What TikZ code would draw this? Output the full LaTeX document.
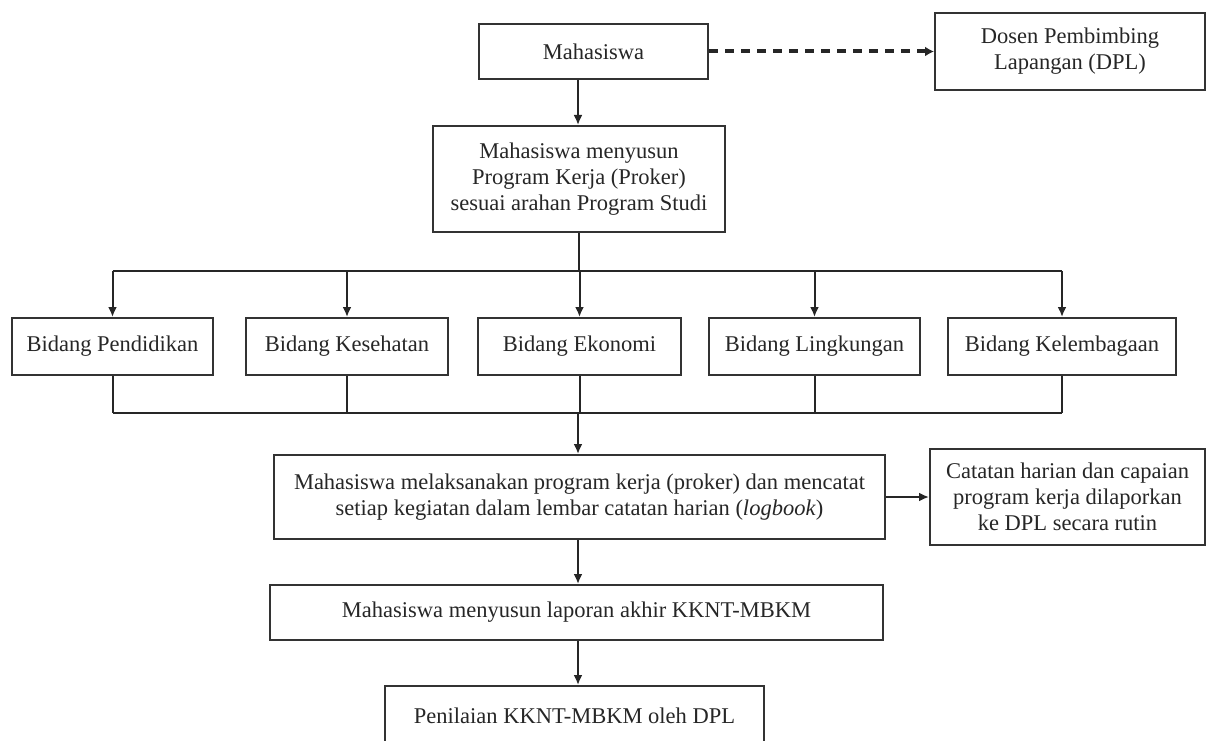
\documentclass[tikz,border=0pt]{standalone}
\usepackage{fontspec}
\setmainfont{Liberation Serif}
\usepackage{tikz}
\usetikzlibrary{arrows.meta}

\tikzset{
	box/.style={draw=black!80,line width=2pt,align=center,inner sep=0pt,text=black!85,
		font=\fontsize{22.5}{26}\selectfont},
	link/.style={draw=black!85,line width=2pt},
	arr/.style={link,-{Latex[length=10pt,width=9pt]}},
	dasharr/.style={link,line width=4pt,dash pattern=on 9pt off 7pt,-{Latex[length=9pt,width=10pt]}}
}

\begin{document}
\begin{tikzpicture}[x=1pt,y=-1pt]
	\useasboundingbox (0,0) rectangle (1207,741);
	
	%top part
	\node[box,minimum width=229pt,minimum height=55pt] (maha) at (593.5,51.5) {Mahasiswa};
	\node[box,minimum width=270pt,minimum height=77pt] (dpl) at (1070,51.5) {Dosen Pembimbing\\Lapangan (DPL)};
	\node[box,minimum width=292pt,minimum height=106pt] (proker) at (579,179) {Mahasiswa menyusun\\Program Kerja (Proker)\\sesuai arahan Program Studi};
	\coordinate (axis) at (578,0);
	\draw[dasharr] (maha.east) -- (dpl.west);
	\draw[arr] (maha.south -| axis) -- (proker.north -| axis);
	
	%bidang
	\node[box,minimum width=201pt,minimum height=57pt] (b1) at (112.5,346.5) {Bidang Pendidikan};
	\node[box,minimum width=202pt,minimum height=57pt] (b2) at (347,346.5) {Bidang Kesehatan};
	\node[box,minimum width=203pt,minimum height=57pt] (b3) at (579.5,346.5) {Bidang Ekonomi};
	\node[box,minimum width=211pt,minimum height=57pt] (b4) at (814.5,346.5) {Bidang Lingkungan};
	\node[box,minimum width=228pt,minimum height=57pt] (b5) at (1062,346.5) {Bidang Kelembagaan};
	\coordinate (topbar) at (0,271);
	\coordinate (botbar) at (0,413);
	\draw[link] (proker.south) -- (proker.south |- topbar);
	\draw[link] (b1.north |- topbar) -- (b5.north |- topbar);
	\foreach \i in {1,...,5}
	{\draw[arr] (b\i.north |- topbar) -- (b\i.north);
	 \draw[link] (b\i.south) -- (b\i.south |- botbar);}
	\draw[link] (b1.south |- botbar) -- (b5.south |- botbar);
	
	%bottom part
	\node[box,minimum width=611pt,minimum height=84pt] (exec) at (579.5,497) {Mahasiswa melaksanakan program kerja (proker) dan mencatat\\setiap kegiatan dalam lembar catatan harian (\textit{logbook})};
	\node[box,minimum width=275pt,minimum height=96pt] (note) at (1067.5,497) {Catatan harian dan capaian\\program kerja dilaporkan\\ke DPL secara rutin};
	\node[box,minimum width=613pt,minimum height=55pt] (report) at (576.5,612.5) {Mahasiswa menyusun laporan akhir KKNT-MBKM};
	\node[box,minimum width=379pt,minimum height=60pt] (grade) at (574.5,716) {Penilaian KKNT-MBKM oleh DPL};
	\draw[arr] (botbar -| axis) -- (exec.north -| axis);
	\draw[arr] (exec.east) -- (note.west);
	\draw[arr] (exec.south -| axis) -- (report.north -| axis);
	\draw[arr] (report.south -| axis) -- (grade.north -| axis);
\end{tikzpicture}
\end{document}
